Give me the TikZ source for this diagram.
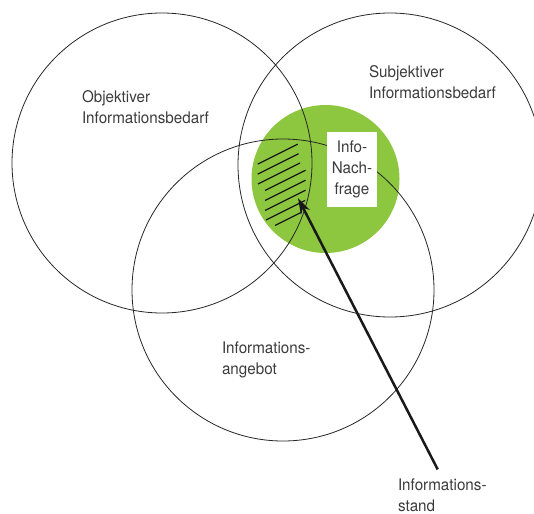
\documentclass[tikz,border=0pt]{standalone}
\usepackage{fontspec}
\setmainfont{TeX Gyre Heros}[FakeStretch=0.95]
\usetikzlibrary{arrows.meta}
\definecolor{infogreen}{RGB}{141,198,63}
\definecolor{txtgray}{RGB}{60,60,60}

\begin{document}
\begin{tikzpicture}[x=1pt,y=-1pt,
  every node/.style={inner sep=0pt,outer sep=0pt,text=txtgray,font=\fontsize{16}{21}\selectfont},
  ring/.style={circle,draw=black!85,line width=0.8pt},
  lbl/.style={align=left,anchor=base west}]
\useasboundingbox (0,0) rectangle (534,513);

\node[circle,fill=infogreen,minimum size=148pt] (g) at (325.5,179){};

\node[ring,minimum size=300pt] (c1) at (162,163){};
\node[ring,minimum size=304pt] (c2) at (390,165){};
\node[ring,minimum size=302pt] (c3) at (283,290){};

% Informationsstand
\foreach \b/\xl/\xr in {293/257.7/297.7,303/257.7/298.5,313/258/300,323/265/305.5,
                        333/265/305.5,343/265/305.5,353/266/305,363/275/301.7}
\draw[line width=1.2pt,black!90] ({\xl},{\b-0.5*\xl}) -- ({\xr},{\b-0.5*\xr});

\node[fill=white,minimum width=50pt,minimum height=75pt,align=center] (box) at (352,169.5) {Info-\\Nach-\\frage};

\node[lbl] (label1) at (82,124) {Objektiver\\Informationsbedarf};
\node[lbl] (label2) at (369,99) {Subjektiver\\Informationsbedarf};
\node[lbl] (label3) at (222,374) {Informations-\\angebot};
\node[lbl] (label4) at (398,511) {Informations-\\stand};

\coordinate (tip) at (298,198);
\draw[line width=2.5pt,black!90,shorten <=10pt,-{Stealth[length=16pt,width=10pt]}] (label4.north) -- (tip);

\end{tikzpicture}
\end{document}
